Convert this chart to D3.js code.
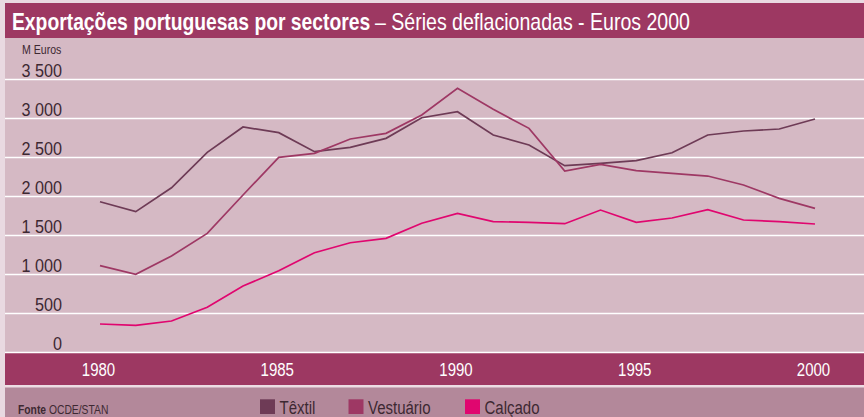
<!DOCTYPE html>
<html><head><meta charset="utf-8">
<script src="https://cdn.jsdelivr.net/npm/d3@7"></script>
<style>
html,body{margin:0;padding:0;background:#e9d9e1;}
svg{display:block;}
text{font-family:"Liberation Sans",Arial,sans-serif;}
</style></head>
<body>
<svg id="chart" width="864" height="417"></svg>
<script>
const years = d3.range(1980, 2001);
const textil = [1927,1799,2106,2560,2885,2812,2568,2624,2739,3004,3081,2782,2654,2389,2419,2453,2555,2782,2833,2859,2987];
const vestuario = [1107,996,1231,1521,2013,2496,2547,2731,2803,3038,3380,3111,2867,2320,2406,2325,2291,2256,2141,1970,1842];
const calcado = [359,342,397,573,846,1042,1273,1401,1457,1650,1778,1671,1662,1645,1820,1662,1718,1824,1692,1671,1641];
const yTicks = [0,500,1000,1500,2000,2500,3000,3500];
const xTicks = [1980,1985,1990,1995,2000];
const seriesNames = ["Têxtil","Vestuário","Calçado"];
const seriesColors = ["#6e3b56","#9e3864","#e0066f"];

const svg = d3.select("#chart");
const W = 864, H = 417;
const x = d3.scaleLinear().domain([1980,2000]).range([100,815]);
const y = d3.scaleLinear().domain([0,3500]).range([352,79]);
const fmt = v => v >= 1000 ? d3.format(",")(v).replace(",", " ") : String(v);

// condensed text helper: scale horizontally around anchor (ax, ay)
function ctext(parent, ax, ay, f, str, opts) {
  const g = parent.append("g").attr("transform", `translate(${ax},${ay}) scale(${f},1)`);
  const t = g.append("text").attr("x",0).attr("y",0).text(str);
  for (const k in opts) t.attr(k, opts[k]);
  return t;
}

// backgrounds
svg.append("rect").attr("x",0).attr("y",0).attr("width",W).attr("height",H).attr("fill","#e9d9e1");
svg.append("rect").attr("x",5).attr("y",3).attr("width",W-5).attr("height",35).attr("fill","#9d3862");
svg.append("rect").attr("x",5).attr("y",38).attr("width",W-5).attr("height",314).attr("fill","#d5b9c4");
svg.append("rect").attr("x",5).attr("y",352).attr("width",W-5).attr("height",33).attr("fill","#9d3862");
svg.append("rect").attr("x",5).attr("y",385).attr("width",W-5).attr("height",2.5).attr("fill","#eddde4");
svg.append("rect").attr("x",5).attr("y",387.5).attr("width",W-5).attr("height",H-387.5).attr("fill","#b3889a");

// title
ctext(svg, 12, 30, 0.84, "Exportações portuguesas por sectores", {"font-size":23, "font-weight":"bold", fill:"#ffffff"});
ctext(svg, 375, 30, 0.85, "– Séries deflacionadas - Euros 2000", {"font-size":23, fill:"#ffffff"});

// unit label
ctext(svg, 22, 54, 0.88, "M Euros", {"font-size":12, fill:"#3d2832"});

// y axis gridlines and labels
const yf = 0.875;
const yAxis = d3.axisLeft(y).tickValues(yTicks).tickSize(-(W-5)).tickFormat(fmt).tickPadding(0);
const gy = svg.append("g").attr("transform","translate(5,0)").call(yAxis);
gy.select(".domain").remove();
gy.selectAll(".tick line").attr("stroke","#ffffff").attr("stroke-width",1.5).attr("x1",0).attr("x2",W-5);
gy.selectAll(".tick text")
  .attr("x",57/yf).attr("dy",-2.3).attr("text-anchor","end")
  .attr("transform",`scale(${yf},1)`)
  .attr("font-size",18.5).attr("fill","#3d2832").attr("font-family","Liberation Sans, Arial, sans-serif");

// x axis labels
const xf = 0.79;
const xAxis = d3.axisBottom(x).tickValues(xTicks).tickFormat(d3.format("d")).tickSize(0).tickPadding(0);
const gx = svg.append("g").attr("transform","translate(0,352)").call(xAxis);
gx.select(".domain").remove();
gx.selectAll(".tick text").attr("y",24).attr("dy",0).attr("x",-2/xf)
  .attr("transform",`scale(${xf},1)`)
  .attr("font-size",19).attr("fill","#ffffff")
  .attr("font-family","Liberation Sans, Arial, sans-serif");

// lines
const data = [textil, vestuario, calcado];
const line = d3.line().x((d,i) => x(years[i])).y(d => y(d));
data.forEach((s,k) => {
  svg.append("path").datum(s).attr("d",line).attr("fill","none")
    .attr("stroke",seriesColors[k]).attr("stroke-width",1.7).attr("stroke-linejoin","miter");
});

// footer
const srcG = svg.append("g").attr("transform","translate(18,413.5) scale(0.86,1)");
const src = srcG.append("text").attr("x",0).attr("y",0).attr("font-size",12).attr("fill","#3d2832");
src.append("tspan").attr("font-weight","bold").text("Fonte");
src.append("tspan").text(" OCDE/STAN");

const legX = [260, 348.5, 465];
seriesNames.forEach((n,k) => {
  svg.append("rect").attr("x",legX[k]).attr("y",399.3).attr("width",15).attr("height",14.7).attr("fill",seriesColors[k]);
  ctext(svg, legX[k]+19.5, 413.7, 0.79, n, {"font-size":19, fill:"#3d2832"});
});
</script>
</body></html>
